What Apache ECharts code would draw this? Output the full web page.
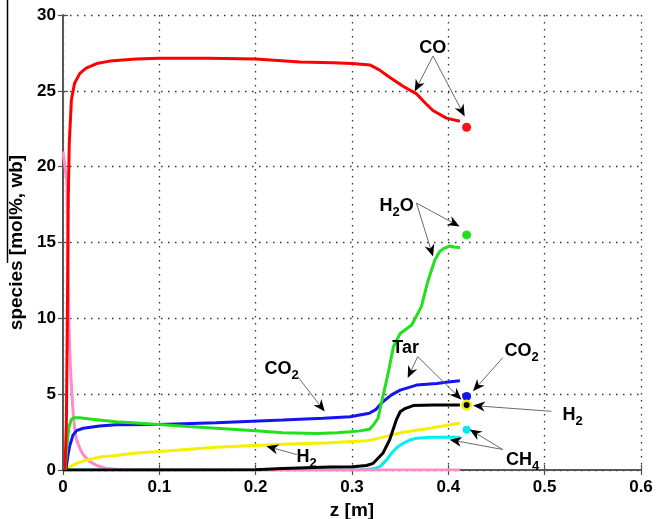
<!DOCTYPE html>
<html>
<head>
<meta charset="utf-8">
<script src="https://cdn.jsdelivr.net/npm/echarts@6/dist/echarts.min.js"></script>
<style>
  html, body { margin: 0; padding: 0; background: #fff; }
  #chart { width: 657px; height: 519px; }
</style>
</head>
<body>
<div id="chart"></div>
<script>
// Gas composition along the reactor axis z [m], mol%, wet basis
const zTicks = ['0', '0.1', '0.2', '0.3', '0.4', '0.5', '0.6'];

const coProfile = [[0.002,0],[0.0035,3],[0.0045,10],[0.0055,18],[0.0065,21.5],[0.0087,24.4],[0.012,25.5],[0.0175,26.15],[0.024,26.5],[0.035,26.8],[0.0485,26.96],[0.076,27.1],[0.1,27.15],[0.15,27.15],[0.2,27.1],[0.246,26.9],[0.28,26.85],[0.3,26.8],[0.319,26.7],[0.328,26.4],[0.339,25.9],[0.353,25.3],[0.367,24.8],[0.376,24.2],[0.384,23.7],[0.398,23.2],[0.412,23.0]];
const o2Profile = [[0,21],[0.002,21],[0.004,19],[0.005,15],[0.006,10],[0.0075,7],[0.009,5.3],[0.0105,3.8],[0.012,2.8],[0.014,2.0],[0.018,1.35],[0.021,1.0],[0.028,0.55],[0.035,0.3],[0.045,0.1],[0.06,0.02],[0.08,0],[0.412,0]];
const h2oProfile = [[0.002,0],[0.004,1.5],[0.006,2.8],[0.0087,3.34],[0.012,3.45],[0.017,3.45],[0.03,3.35],[0.055,3.18],[0.08,3.08],[0.099,3.0],[0.13,2.87],[0.159,2.75],[0.2,2.58],[0.228,2.46],[0.263,2.4],[0.285,2.45],[0.2977,2.52],[0.308,2.58],[0.318,2.68],[0.322,2.95],[0.327,3.41],[0.332,4.83],[0.3375,6.37],[0.343,8.13],[0.35,9.0],[0.362,9.56],[0.372,10.77],[0.379,12.5],[0.386,13.84],[0.391,14.4],[0.395,14.6],[0.4015,14.77],[0.406,14.7],[0.412,14.65]];
const co2Profile = [[0.003,0],[0.0035,0.22],[0.005,0.9],[0.007,1.6],[0.0104,2.3],[0.014,2.6],[0.021,2.75],[0.038,2.9],[0.055,2.98],[0.1,3.0],[0.159,3.12],[0.228,3.3],[0.27,3.42],[0.298,3.51],[0.318,3.74],[0.325,4.0],[0.332,4.5],[0.341,4.95],[0.35,5.27],[0.367,5.6],[0.388,5.71],[0.4,5.8],[0.412,5.89]];
const h2Profile = [[0.004,0],[0.007,0.22],[0.013,0.4],[0.021,0.6],[0.038,0.85],[0.055,0.95],[0.073,1.1],[0.1,1.22],[0.159,1.5],[0.228,1.69],[0.277,1.8],[0.315,1.93],[0.322,2.0],[0.35,2.45],[0.381,2.75],[0.412,3.1]];
const tarProfile = [[0,0],[0.1,0],[0.2,0.02],[0.228,0.1],[0.277,0.2],[0.301,0.22],[0.315,0.3],[0.322,0.44],[0.332,1.1],[0.339,1.98],[0.346,3.3],[0.35,3.84],[0.355,4.05],[0.3635,4.25],[0.384,4.28],[0.412,4.28]];
const ch4Profile = [[0,0],[0.308,0],[0.322,0.08],[0.329,0.22],[0.335,0.6],[0.341,1.1],[0.347,1.5],[0.353,1.76],[0.36,1.98],[0.367,2.09],[0.381,2.16],[0.412,2.16]];

// Measured outlet composition
const outletZ = 0.419;
const outletCO = 22.6;
const outletH2O = 15.5;
const outletCO2 = 4.85;
const outletH2 = 4.28;
const outletTar = 4.28;
const outletCH4 = 2.65;

const FONT = '"Liberation Sans", Arial, sans-serif';

const chart = echarts.init(document.getElementById('chart'), null, { renderer: 'canvas' });

function profile(name, data, color, z) {
  return {
    name: name, type: 'line', data: data, showSymbol: false, symbol: 'none',
    lineStyle: { color: color, width: 3 }, z: z, animation: false, silent: true
  };
}
function outlet(name, value, color, size, z) {
  return {
    name: name, type: 'scatter', data: [[outletZ, value]], symbolSize: size,
    itemStyle: { color: color, opacity: 1 }, z: z, animation: false, silent: true
  };
}

const axisLine = { show: true, lineStyle: { color: '#505050', width: 1.5 } };
const tick = { show: true, inside: true, length: 5, lineStyle: { color: '#505050', width: 1.2 } };
const labelStyle = { color: '#000', fontFamily: FONT, fontWeight: 'bold', fontSize: 17 };
const nameStyle = { color: '#000', fontFamily: FONT, fontWeight: 'bold', fontSize: 19 };
const gridDots = { show: true, lineStyle: { color: '#333', width: 1.3, type: [1.5, 5.5] } };

const option = {
  animation: false,
  backgroundColor: '#fff',
  grid: { left: 63, right: 16, top: 15, bottom: 49, outerBoundsMode: 'none', containLabel: false },
  xAxis: [
    {
      type: 'value', min: 0, max: 0.6, interval: 0.1, position: 'bottom',
      axisLine: axisLine, axisTick: tick,
      axisLabel: Object.assign({ margin: 9, formatter: (v) => zTicks[Math.round(v * 10)] }, labelStyle),
      splitLine: gridDots,
      name: 'z [m]', nameLocation: 'middle', nameGap: 31, nameTextStyle: nameStyle
    },
    {
      type: 'value', min: 0, max: 0.6, interval: 0.1, position: 'top',
      axisLine: axisLine, axisTick: tick, axisLabel: { show: false }, splitLine: { show: false }
    }
  ],
  yAxis: [
    {
      type: 'value', min: 0, max: 30, interval: 5, position: 'left',
      axisLine: axisLine, axisTick: tick,
      axisLabel: Object.assign({ margin: 7 }, labelStyle),
      splitLine: gridDots,
      name: 'species [mol%, wb]', nameLocation: 'middle', nameGap: 36, nameTextStyle: nameStyle
    },
    {
      type: 'value', min: 0, max: 30, interval: 5, position: 'right',
      axisLine: axisLine, axisTick: tick, axisLabel: { show: false }, splitLine: { show: false }
    }
  ],
  series: [
    profile('CH4', ch4Profile, '#00f0f0', 2),
    profile('O2', o2Profile, '#ff8cc6', 3),
    profile('H2', h2Profile, '#f4f000', 4),
    profile('Tar', tarProfile, '#000000', 5),
    profile('CO2', co2Profile, '#1414f0', 6),
    profile('H2O', h2oProfile, '#22e01e', 7),
    profile('CO', coProfile, '#ff0000', 8),
    outlet('CO meas.', outletCO, '#ff1010', 9, 10),
    outlet('H2O meas.', outletH2O, '#22e01e', 9, 10),
    outlet('CO2 meas.', outletCO2, '#1414f0', 9, 10),
    outlet('H2 meas.', outletH2, '#f4f000', 11, 10),
    outlet('Tar meas.', outletTar, '#000000', 6, 11),
    outlet('CH4 meas.', outletCH4, '#00e8f0', 8, 10)
  ]
};

chart.setOption(option);

// Callouts: label text placed in data space, with arrows from the label to the curves
const callouts = [
  { text: '{n|CO}', at: [0.3838, 27.87], from: [0.3841, 27.3], to: [[0.3651, 24.95], [0.4170, 23.31]] },
  { text: '{n|H}{s|2}{n|O}', at: [0.3464, 17.49], from: [0.3669, 17.6], to: [[0.4117, 16.06], [0.3841, 14.08]] },
  { text: '{n|CO}{s|2}', at: [0.2270, 6.70], from: [0.2436, 6.16], to: [[0.2717, 3.85]] },
  { text: '{n|H}{s|2}', at: [0.2530, 0.90], from: [0.2426, 1.02], to: [[0.2111, 1.57]] },
  { text: '{n|Tar}', at: [0.3557, 8.14], from: [0.3682, 7.48], to: [[0.3578, 6.06], [0.4136, 4.64]] },
  { text: '{n|CO}{s|2}', at: [0.4760, 7.90], from: [0.4565, 7.41], to: [[0.4256, 5.19]] },
  { text: '{n|H}{s|2}', at: [0.5290, 3.70], from: [0.5070, 3.87], to: [[0.4256, 4.25]] },
  { text: '{n|CH}{s|4}', at: [0.4770, 0.75], from: [0.4565, 1.35], to: [[0.4014, 2.0], [0.4222, 2.67]] }
];

function px(p) { return chart.convertToPixel({ seriesIndex: 0 }, p); }

const graphics = [];
callouts.forEach(function (c) {
  const o = px(c.from);
  c.to.forEach(function (t) {
    const p = px(t);
    let dx = p[0] - o[0], dy = p[1] - o[1];
    const len = Math.sqrt(dx * dx + dy * dy);
    dx /= len; dy /= len;
    const nx = -dy, ny = dx;
    const L = 12, W = 10;
    const back = [p[0] - dx * L, p[1] - dy * L];
    const notch = [p[0] - dx * L * 0.7, p[1] - dy * L * 0.7];
    graphics.push({
      type: 'line', silent: true, z: 20,
      shape: { x1: o[0], y1: o[1], x2: notch[0], y2: notch[1] },
      style: { stroke: '#6a6a6a', lineWidth: 1 }
    });
    graphics.push({
      type: 'polygon', silent: true, z: 21,
      shape: { points: [p, [back[0] + nx * W / 2, back[1] + ny * W / 2], notch, [back[0] - nx * W / 2, back[1] - ny * W / 2]] },
      style: { fill: '#000' }
    });
  });
  const a = px(c.at);
  graphics.push({
    type: 'text', silent: true, z: 22, x: a[0], y: a[1],
    style: {
      text: c.text, align: 'center', verticalAlign: 'middle',
      rich: {
        n: { fontFamily: FONT, fontWeight: 'bold', fontSize: 18, fill: '#000', verticalAlign: 'bottom', lineHeight: 20 },
        s: { fontFamily: FONT, fontWeight: 'bold', fontSize: 13, fill: '#000', verticalAlign: 'bottom', lineHeight: 14, padding: [0, 0, -4, 0] }
      }
    }
  });
});

// Thin rule along the left page edge
graphics.push({
  type: 'line', silent: true, z: 1,
  shape: { x1: 7.5, y1: 0, x2: 7.5, y2: 263 },
  style: { stroke: '#000', lineWidth: 1.5 }
});

chart.setOption({ graphic: graphics });
</script>
</body>
</html>
